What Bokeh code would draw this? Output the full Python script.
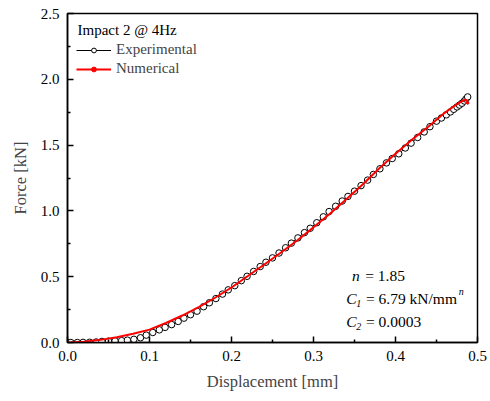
from bokeh.plotting import figure
from bokeh.models import Range1d, FixedTicker, NumeralTickFormatter, Legend, LegendItem, Label
from bokeh.embed import file_html
from bokeh.resources import INLINE

# Experimental data (displacement mm, force kN)
exp_x = [0.000, 0.004, 0.012, 0.019, 0.027, 0.035, 0.042, 0.050, 0.058, 0.066, 0.073, 0.081,
         0.089, 0.096, 0.104, 0.112, 0.119, 0.127, 0.135, 0.142, 0.150, 0.158, 0.166,
         0.173, 0.181, 0.189, 0.196, 0.204, 0.212, 0.219, 0.227, 0.235, 0.242, 0.250,
         0.258, 0.266, 0.273, 0.281, 0.289, 0.296, 0.304, 0.312, 0.319, 0.327, 0.335,
         0.342, 0.350, 0.358, 0.366, 0.373, 0.381, 0.389, 0.396, 0.404, 0.412, 0.419,
         0.427, 0.435, 0.442, 0.450, 0.456, 0.462, 0.467, 0.471, 0.475, 0.478, 0.481,
         0.484, 0.486, 0.488]
exp_y = [0.000, 0.000, 0.000, 0.001, 0.002, 0.004, 0.008, 0.010, 0.012, 0.014, 0.018, 0.024,
         0.036, 0.056, 0.076, 0.096, 0.115, 0.136, 0.160, 0.185, 0.211, 0.238, 0.272,
         0.302, 0.334, 0.368, 0.400, 0.432, 0.470, 0.503, 0.540, 0.577, 0.610, 0.643,
         0.680, 0.720, 0.755, 0.795, 0.835, 0.868, 0.910, 0.955, 0.995, 1.035, 1.075,
         1.110, 1.150, 1.192, 1.234, 1.277, 1.320, 1.365, 1.398, 1.434, 1.478, 1.515,
         1.558, 1.600, 1.640, 1.682, 1.706, 1.730, 1.752, 1.772, 1.790, 1.804, 1.818,
         1.835, 1.850, 1.866]

# Numerical model
num_x = [0.000, 0.020, 0.040, 0.060, 0.080, 0.100, 0.120, 0.140, 0.160, 0.180, 0.200,
         0.220, 0.240, 0.260, 0.280, 0.300, 0.320, 0.340, 0.360, 0.380, 0.400, 0.420,
         0.440, 0.460, 0.470, 0.480, 0.485, 0.487, 0.488]
num_y = [0.000, 0.006, 0.020, 0.040, 0.066, 0.098, 0.148, 0.205, 0.268, 0.340, 0.418,
         0.505, 0.593, 0.682, 0.775, 0.875, 0.978, 1.088, 1.200, 1.322, 1.435, 1.540,
         1.640, 1.745, 1.790, 1.830, 1.845, 1.840, 1.820]

x_ticks = [0.0, 0.1, 0.2, 0.3, 0.4, 0.5]
y_ticks = [0.0, 0.5, 1.0, 1.5, 2.0, 2.5]

FONT = "Liberation Serif"

p = figure(width=488, height=398, output_backend="svg", toolbar_location=None,
           x_range=Range1d(0, 0.5), y_range=Range1d(0, 2.5),
           min_border_left=67, min_border_right=11, min_border_top=13, min_border_bottom=56)
p.grid.visible = False
p.outline_line_color = "black"
p.outline_line_width = 1.5
p.background_fill_color = "white"

for ax in (p.xaxis, p.yaxis):
    ax.major_tick_in = 6
    ax.major_tick_out = 0
    ax.minor_tick_in = 3
    ax.minor_tick_out = 0
    ax.axis_line_width = 1.5
    ax.major_tick_line_width = 1.5
    ax.minor_tick_line_width = 1.5
    ax.major_label_text_font = FONT
    ax.major_label_text_font_size = "15px"
    ax.major_label_text_color = "black"
    ax.axis_label_text_font = FONT
    ax.axis_label_text_font_size = "16.5px"
    ax.axis_label_text_font_style = "normal"
    ax.major_label_standoff = 8

p.xaxis.ticker = FixedTicker(ticks=x_ticks, minor_ticks=[0.05, 0.15, 0.25, 0.35, 0.45])
p.yaxis.ticker = FixedTicker(ticks=y_ticks, minor_ticks=[0.25, 0.75, 1.25, 1.75, 2.25])
p.xaxis.formatter = NumeralTickFormatter(format="0.0")
p.yaxis.formatter = NumeralTickFormatter(format="0.0")
p.xaxis.axis_label = "Displacement [mm]"
p.yaxis.axis_label = "Force [kN]"
p.xaxis.axis_label_standoff = 8
p.yaxis.axis_label_standoff = 8

r_el = p.line(exp_x, exp_y, line_color="black", line_width=1)
r_em = p.scatter(exp_x, exp_y, marker="circle", size=6.5, fill_color="white",
                 line_color="black", line_width=1)
r_nl = p.line(num_x, num_y, line_color="red", line_width=2)
r_nm = p.scatter(num_x[-1:], num_y[-1:], marker="circle", size=2.5, fill_color="red",
                 line_color="red")

legend = Legend(items=[LegendItem(label="Experimental", renderers=[r_el, r_em]),
                       LegendItem(label="Numerical", renderers=[r_nl, r_nm])],
                location=(4, 259))
legend.border_line_alpha = 0
legend.background_fill_alpha = 0
legend.label_text_font = FONT
legend.label_text_font_size = "15px"
legend.glyph_width = 35
legend.glyph_height = 12
legend.label_height = 19
legend.label_standoff = 5
legend.spacing = 0
legend.padding = 5
legend.margin = 0
p.add_layout(legend)

def lab(x, y, t, style="normal", size="15.5px"):
    p.add_layout(Label(x=x, y=y, text=t, text_font=FONT, text_font_size=size,
                       text_font_style=style, text_baseline="middle", text_color="black"))

lab(0.0122, 2.371, "Impact 2 @ 4Hz", size="15px")
lab(0.347, 0.509, "n", "italic")
lab(0.363, 0.509, "= 1.85")
lab(0.340, 0.338, "C", "italic")
lab(0.352, 0.300, "1", "italic", "10px")
lab(0.364, 0.338, "= 6.79 kN/mm")
lab(0.477, 0.385, "n", "italic", "10px")
lab(0.340, 0.160, "C", "italic")
lab(0.352, 0.120, "2", "italic", "10px")
lab(0.364, 0.160, "= 0.0003")

open("out.html", "w").write(file_html(p, INLINE))
